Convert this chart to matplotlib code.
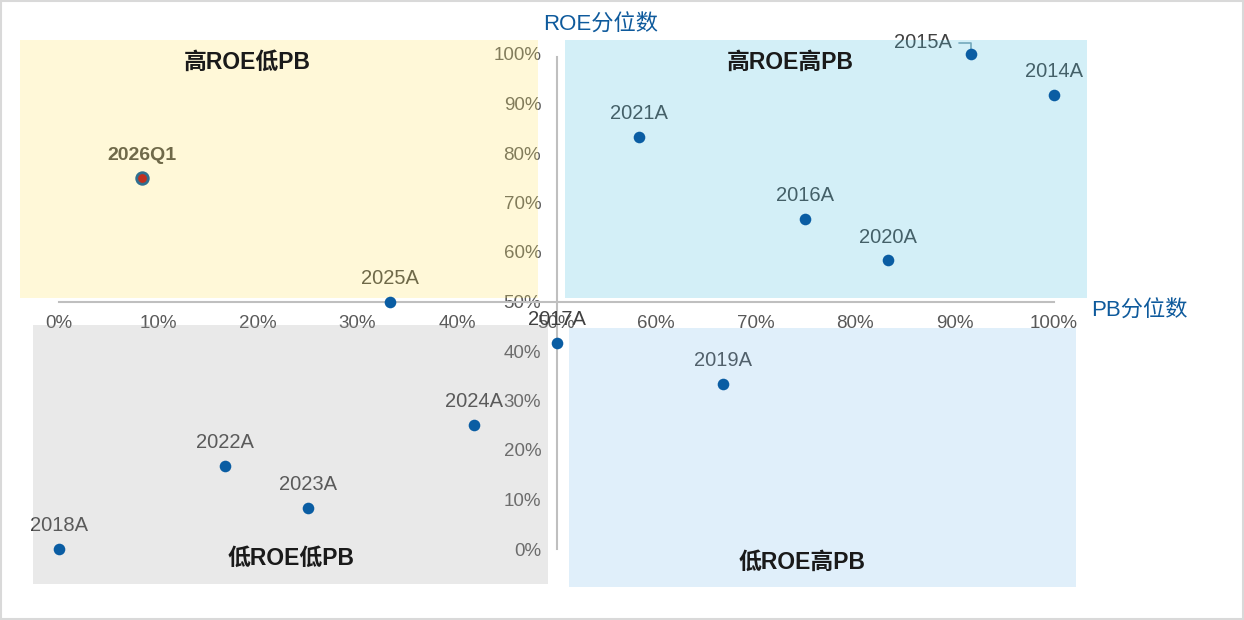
import matplotlib
matplotlib.use("Agg")
import matplotlib.pyplot as plt
from matplotlib.patches import Rectangle

plt.rcParams['font.family'] = ['Liberation Sans', 'Noto Sans CJK SC', 'DejaVu Sans']

# PB percentile (x) and ROE percentile (y)
labels = ["2014A", "2015A", "2016A", "2017A", "2018A", "2019A", "2020A",
          "2021A", "2022A", "2023A", "2024A", "2025A", "2026Q1"]
pb_pct = [1.0, 0.917, 0.75, 0.50, 0.0, 0.667, 0.833,
          0.583, 0.167, 0.25, 0.417, 0.333, 0.083]
roe_pct = [0.917, 1.0, 0.667, 0.417, 0.0, 0.333, 0.583,
           0.833, 0.167, 0.083, 0.25, 0.50, 0.75]

ticks = [i / 10 for i in range(11)]
tick_labels = ["%d%%" % (i * 10) for i in range(11)]

quad_names = ["高ROE低PB", "高ROE高PB", "低ROE低PB", "低ROE高PB"]

fig = plt.figure(figsize=(12.44, 6.2), dpi=100)
ax = fig.add_axes([59 / 1244, 71 / 620, 995 / 1244, 495 / 620])
ax.set_xlim(0, 1)
ax.set_ylim(0, 1)

blue = "#0A5DA3"
grey_txt = "#595959"
label_txt = "#404040"

# quadrant axes through the middle
for s in ["top", "right"]:
    ax.spines[s].set_visible(False)
ax.spines["left"].set_position(("data", 0.5))
ax.spines["bottom"].set_position(("data", 0.5))
for s in ["left", "bottom"]:
    ax.spines[s].set_color("#BFBFBF")
    ax.spines[s].set_linewidth(1.5)
ax.spines["left"].set_bounds(0, 0.994)
ax.set_xticks(ticks)
ax.set_xticklabels(tick_labels)
ax.set_yticks(ticks)
ax.set_yticklabels(tick_labels)
ax.tick_params(axis="both", length=0, labelsize=13.5, colors=grey_txt)
ax.tick_params(axis="x", pad=10)
ax.tick_params(axis="y", pad=11)
ax.patch.set_visible(False)

# points
for i, lab in enumerate(labels):
    if lab == "2026Q1":
        ax.scatter(pb_pct[i], roe_pct[i], s=70, color="#C0301F", edgecolor="#2F6F90",
                   linewidth=2, zorder=15, clip_on=False)
        ax.annotate(lab, (pb_pct[i], roe_pct[i]), xytext=(0, 10), textcoords="offset points",
                    ha="center", va="bottom", fontsize=14, fontweight="bold", color=label_txt)
    else:
        ax.scatter(pb_pct[i], roe_pct[i], s=70, color=blue, zorder=15, clip_on=False,
                   linewidth=0)
        if lab == "2015A":
            ax.annotate(lab, (pb_pct[i], roe_pct[i]), xytext=(-14, 8), textcoords="offset points",
                        ha="right", va="center", fontsize=14.5, color=label_txt,
                        arrowprops=dict(arrowstyle="-", color="#7F9FAF", lw=1.2,
                                        connectionstyle="angle,angleA=0,angleB=90,rad=0",
                                        shrinkA=3, shrinkB=3))
        else:
            ax.annotate(lab, (pb_pct[i], roe_pct[i]), xytext=(0, 10), textcoords="offset points",
                        ha="center", va="bottom", fontsize=14.5, color=label_txt)

# translucent quadrant boxes laid over the plot
boxes = [
    (-0.039, 0.507, 0.520, 0.521, "#FFE664"),
    (0.509, 0.507, 0.524, 0.521, "#53C3E3"),
    (-0.026, -0.071, 0.517, 0.524, "#ABABAB"),
    (0.513, -0.077, 0.509, 0.523, "#87C3EF"),
]
for x0, y0, w, h, c in boxes:
    ax.add_patch(Rectangle((x0, y0), w, h, facecolor=c, edgecolor="none", alpha=0.25,
                           zorder=10, clip_on=False))

quad_pos = [(0.189, 0.983), (0.735, 0.983), (0.233, -0.018), (0.747, -0.026)]
for (x, y), name in zip(quad_pos, quad_names):
    ax.text(x, y, name, ha="center", va="center", fontsize=16.5, fontweight="bold",
            color="#1A1A1A", zorder=12)

# axis titles
fig.text(601 / 1244, 1 - 25 / 620, "ROE分位数", ha="center", va="center", fontsize=16, color="#0E5A9C")
fig.text(1139 / 1244, 1 - 311 / 620, "PB分位数", ha="center", va="center", fontsize=16, color="#0E5A9C")

fig.add_artist(Rectangle((0.001, 0.002), 0.998, 0.996, transform=fig.transFigure,
                         facecolor="none", edgecolor="#D9D9D9", lw=1.5))

fig.savefig("out.png", dpi=100)
